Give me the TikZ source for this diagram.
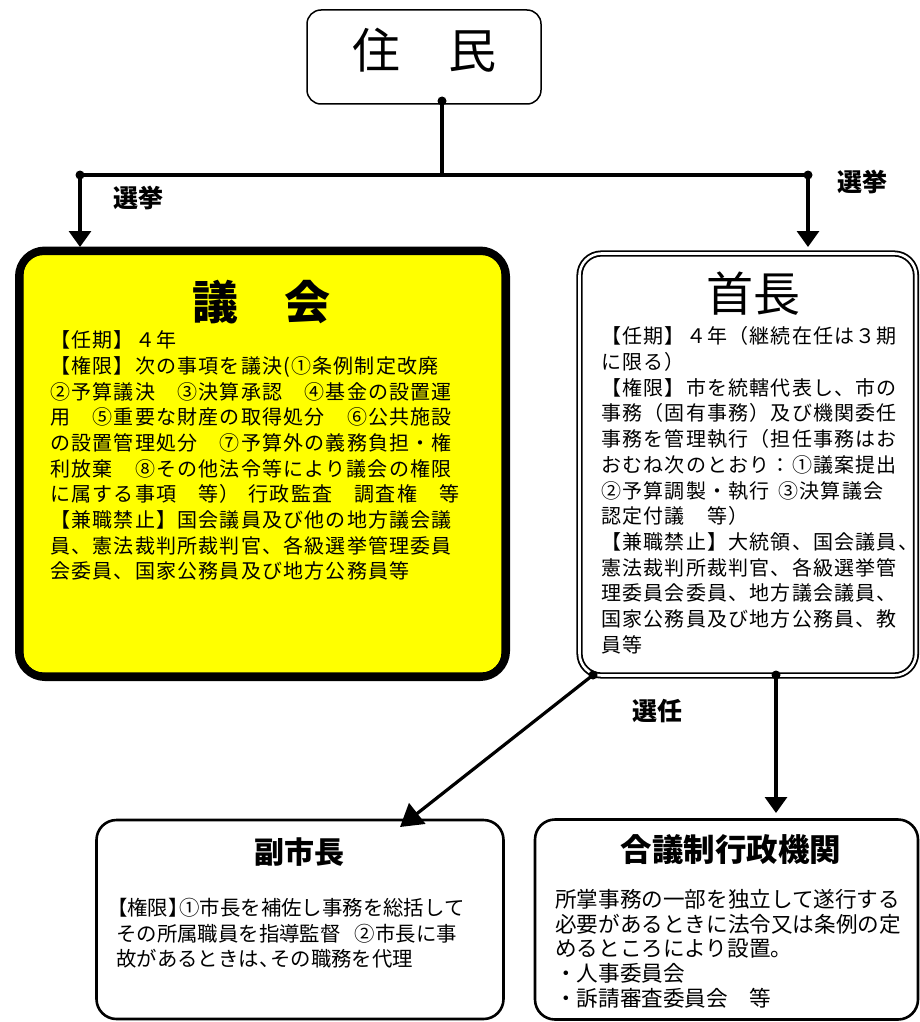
\documentclass[tikz,border=0pt]{standalone}
\usepackage{fontspec}
\setmainfont{Noto Sans CJK JP}
\newfontfamily\jpfix{Noto Sans CJK JP}[LetterSpace=6]
\usetikzlibrary{arrows.meta}
\definecolor{gkyellow}{RGB}{255,255,0}
\newcommand{\hlb}{\makebox[0.55em][r]{【}}
\newcommand{\hrb}{\makebox[0.55em][l]{】}}
\newcommand{\hcm}{\makebox[0.55em][l]{、}}
\begin{document}
\begin{tikzpicture}[x=1pt,y=-1pt,
  conn/.style={line width=3.2pt},
  arr/.style={conn,-{Triangle[width=22pt,length=16pt]}},
  bigarr/.style={conn,-{Triangle[width=26pt,length=22pt]}},
  dotc/.style={circle,fill=black,inner sep=0pt,minimum size=9pt},
  lbl/.style={font={\fontsize{25}{25}\selectfont\bfseries},inner sep=0pt},
  bigtitle/.style={inner sep=0pt},
  fixbody/.style={font={\jpfix\fontsize{20}{25.7}\selectfont},align=left,inner sep=0pt,anchor=north west},
  propbody/.style={font={\fontsize{20.4}{25.2}\selectfont},align=left,inner sep=0pt,anchor=north west},
  widebody/.style={font={\fontsize{21.6}{24.8}\selectfont},align=left,inner sep=0pt,anchor=north west},
  lowbox/.style={draw,line width=2.6pt,rounded corners=20pt,fill=white},
]
\useasboundingbox (0,0) rectangle (920,1022);
\fill[white] (0,0) rectangle (920,1022);

% boxes
\node[draw,line width=1.5pt,rounded corners=14pt,minimum width=234pt,minimum height=94pt] (jumin) at (424,57) {};
\node[bigtitle,font={\fontsize{48}{48}\selectfont}] (jumint) at (424,50) {住　民};

\node[draw,line width=8pt,fill=gkyellow,rounded corners=26pt,minimum width=487pt,minimum height=426.5pt] (gikai) at (262.5,463.75) {};
\draw[line width=1.3pt,rounded corners=20pt] ([shift={(8pt,-8pt)}]gikai.north west) rectangle ([shift={(-8pt,8pt)}]gikai.south east);
\node[bigtitle,font={\fontsize{46}{46}\selectfont\bfseries}] (gikait) at (261,302) {議　会};
\node[fixbody] (gikaib) at (50,330.5) {【任期】４年\\
【権限】次の事項を議決(①条例制定改廃\\
②予算議決　③決算承認　④基金の設置運\\
用　⑤重要な財産の取得処分　⑥公共施設\\
の設置管理処分　⑦予算外の義務負担・権\\
利放棄　⑧その他法令等により議会の権限\\
に属する事項　等）\hspace{0.45em}行政監査　調査権　等\\
【兼職禁止】国会議員及び他の地方議会議\\
員、憲法裁判所裁判官、各級選挙管理委員\\
会委員、国家公務員及び地方公務員等};

\node[draw,line width=1.8pt,double=white,double distance=2.6pt,rounded corners=22pt,minimum width=336.5pt,minimum height=422pt] (shucho) at (747.75,464.5) {};
\node[bigtitle,font={\fontsize{47}{47}\selectfont}] (shuchot) at (753,294) {首長};
\node[fixbody] (shuchob) at (601,326.5) {【任期】４年（継続在任は３期\\
に限る）\\
【権限】市を統轄代表し、市の\\
事務（固有事務）及び機関委任\\
事務を管理執行（担任事務はお\\
おむね次のとおり：①議案提出\\
②予算調製・執行\hspace{0.45em}③決算議会\\
認定付議　等）\\
【兼職禁止】大統領、国会議員、\\
憲法裁判所裁判官、各級選挙管\\
理委員会委員、地方議会議員、\\
国家公務員及び地方公務員、教\\
員等};

\node[lowbox,minimum width=407pt,minimum height=199pt] (fuku) at (300,919.5) {};
\node[bigtitle,font={\fontsize{30}{30}\selectfont\bfseries}] (fukut) at (299,852) {副市長};
\node[propbody] (fukub) at (116,898.5) {\hlb 権限\hrb ①市長を補佐し事務を総括して\\
その所属職員を指導監督\hspace{0.7em}②市長に事\\
故があるときは\hcm その職務を代理};

\node[lowbox,minimum width=383pt,minimum height=200pt] (gougi) at (726.5,919.5) {};
\node[bigtitle,font={\fontsize{31.5}{31.5}\selectfont\bfseries}] (gougit) at (731,850) {合議制行政機関};
\node[widebody] (gougib) at (555,889) {所掌事務の一部を独立して遂行する\\
必要があるときに法令又は条例の定\\
めるところにより設置。\\
・人事委員会\\
・訴請審査委員会　等};

% connectors
\node[dotc] (jd) at (442,101) {};
\coordinate (jc) at (442,175);
\node[dotc] (ld) at (80,175) {};
\node[dotc] (rd) at (808,175) {};
\coordinate (lt) at (80,247);
\coordinate (rt) at (808,247);
\draw[conn] (jd.center) -- (jc);
\draw[conn] (ld.center) -- (rd.center);
\draw[arr] (ld.center) -- (lt);
\draw[arr] (rd.center) -- (rt);

\node[dotc] (sd1) at (593,675) {};
\node[dotc] (sd2) at (776,675) {};
\coordinate (ft) at (400,827);
\coordinate (gt) at (776,813);
\draw[bigarr] (sd1.center) -- (ft);
\draw[arr] (sd2.center) -- (gt);

\node[lbl] (sen1) at (138,198) {選挙};
\node[lbl] (sen2) at (862,182) {選挙};
\node[lbl] (sen3) at (657,711) {選任};
\end{tikzpicture}
\end{document}
